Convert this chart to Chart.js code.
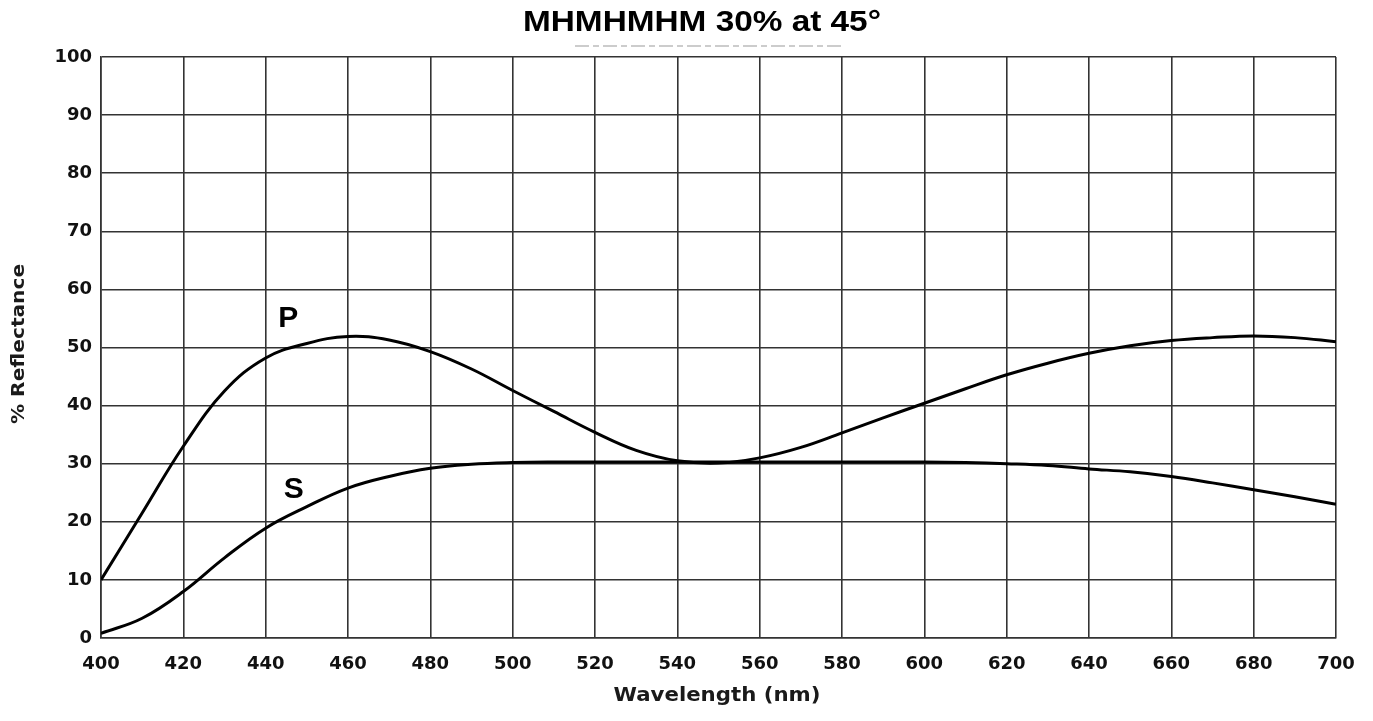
<!DOCTYPE html>
<html>
<head>
<meta charset="utf-8">
<script src="https://cdn.jsdelivr.net/npm/chart.js@4"></script>
<style>
  html, body { margin: 0; padding: 0; background: #fff; }
  #wrap { width: 1373px; height: 721px; }
</style>
</head>
<body>
<div id="wrap"><canvas id="myChart" width="1373" height="721"></canvas></div>
<script>
// wavelengths (nm) every 10 nm
const wavelengths = [400, 410, 420, 430, 440, 450, 460, 470, 480, 490, 500, 510, 520, 530, 540, 550,
                     560, 570, 580, 590, 600, 610, 620, 630, 640, 650, 660, 670, 680, 690, 700];
// P polarisation
const pValues = [10, 21.5, 33, 42.5, 48.2, 50.7, 51.9, 51.3, 49.3, 46.3, 42.6, 39, 35.4, 32.3, 30.5, 30.1,
                 31, 32.8, 35.3, 37.9, 40.4, 42.9, 45.3, 47.3, 49, 50.3, 51.2, 51.7, 52, 51.7, 51];
// S polarisation
const sValues = [0.8, 3.4, 8, 13.8, 18.9, 22.6, 25.8, 27.8, 29.2, 29.9, 30.2, 30.3, 30.3, 30.3, 30.3, 30.3,
                 30.3, 30.3, 30.3, 30.3, 30.3, 30.2, 30, 29.7, 29.1, 28.6, 27.8, 26.7, 25.5, 24.3, 23];
const xTicks = [400, 700, 20];
const yTicks = [0, 100, 10];
const curveLabels = [
    { text: 'P', x: 445.5, y: 55 },
    { text: 'S', x: 446.8, y: 25.6 }
];

function toPoints(vals) {
    return wavelengths.map(function (w, i) { return { x: w, y: vals[i] }; });
}

// draws text stretched horizontally to look like the wide original fonts
function wideText(ctx, text, x, y, sx) {
    ctx.save();
    ctx.translate(x, y);
    ctx.scale(sx, 1);
    ctx.fillText(text, 0, 0);
    ctx.restore();
}

const extras = {
    id: 'extras',
    afterDraw: function (chart) {
        const ctx = chart.ctx;
        const xs = chart.scales.x, ys = chart.scales.y;
        ctx.save();
        ctx.fillStyle = '#000';
        ctx.textAlign = 'center';
        ctx.textBaseline = 'middle';
        // title
        ctx.font = 'bold 29px "Liberation Sans", Arial, sans-serif';
        wideText(ctx, 'MHMHMHM 30% at 45\u00B0', 702, 23, 1.15);
        // faint smudge under the title
        ctx.strokeStyle = '#ccc';
        ctx.lineWidth = 2;
        ctx.setLineDash([14, 4, 6, 4]);
        ctx.beginPath();
        ctx.moveTo(575, 46);
        ctx.lineTo(845, 46);
        ctx.stroke();
        ctx.setLineDash([]);
        // axis titles
        ctx.fillStyle = '#1a1a1a';
        ctx.font = 'bold 19px "DejaVu Sans", sans-serif';
        wideText(ctx, 'Wavelength (nm)', 717, 696, 1.12);
        ctx.save();
        ctx.translate(19, 344);
        ctx.rotate(-Math.PI / 2);
        ctx.font = 'bold 18px "DejaVu Sans", sans-serif';
        wideText(ctx, '% Reflectance', 0, 0, 1.12);
        ctx.restore();
        // curve labels
        ctx.fillStyle = '#000';
        ctx.font = 'bold 30px "Liberation Sans", Arial, sans-serif';
        curveLabels.forEach(function (l) {
            ctx.fillText(l.text, xs.getPixelForValue(l.x), ys.getPixelForValue(l.y));
        });
        ctx.restore();
    }
};

const ctx = document.getElementById('myChart').getContext('2d');
const myChart = new Chart(ctx, {
    type: 'line',
    data: {
        datasets: [{
            label: 'P',
            data: toPoints(pValues),
            borderColor: '#000',
            borderWidth: 3,
            pointRadius: 0,
            tension: 0.4,
            fill: false
        }, {
            label: 'S',
            data: toPoints(sValues),
            borderColor: '#000',
            borderWidth: 3,
            pointRadius: 0,
            tension: 0.4,
            fill: false
        }]
    },
    options: {
        responsive: false,
        animation: false,
        layout: { padding: { top: 57, right: 37, left: 0, bottom: 0 } },
        plugins: {
            legend: { display: false },
            tooltip: { enabled: false }
        },
        scales: {
            x: {
                type: 'linear',
                min: xTicks[0],
                max: xTicks[1],
                afterFit: function (s) { s.height = 83; },
                ticks: {
                    stepSize: xTicks[2],
                    padding: 16,
                    color: '#111',
                    font: { family: '"DejaVu Sans", sans-serif', weight: 'bold', size: 18 }
                },
                grid: { color: '#333', lineWidth: 1.6, drawTicks: false },
                border: { color: '#333', width: 1.6 }
            },
            y: {
                min: yTicks[0],
                max: yTicks[1],
                afterFit: function (s) { s.width = 101; },
                ticks: {
                    stepSize: yTicks[2],
                    padding: 9,
                    color: '#111',
                    font: { family: '"DejaVu Sans", sans-serif', weight: 'bold', size: 18 }
                },
                grid: { color: '#333', lineWidth: 1.6, drawTicks: false },
                border: { color: '#333', width: 1.6 }
            }
        }
    },
    plugins: [extras]
});
</script>
</body>
</html>
